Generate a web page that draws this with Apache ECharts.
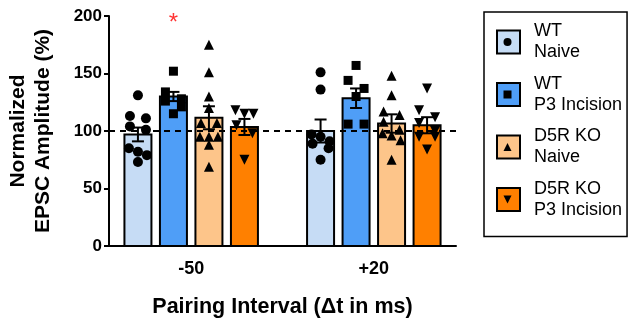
<!DOCTYPE html>
<html>
<head>
<meta charset="utf-8">
<script src="https://cdn.jsdelivr.net/npm/echarts@6/dist/echarts.min.js"></script>
<style>
  html, body { margin: 0; padding: 0; background: #fff; }
  #main { width: 636px; height: 320px; }
</style>
</head>
<body>
<div id="main"></div>
<script>
// x groups (pairing interval) and conditions
var groups = ['-50', '+20'];
var conditions = ['WT\nNaive', 'WT\nP3 Incision', 'D5R KO\nNaive', 'D5R KO\nP3 Incision'];
var colors = ['#c6dcf5', '#4f9ef7', '#fdc58a', '#ff8000'];

// bar heights (mean) and SEM, one value per group [-50, +20]
var meanWTNaive = [97, 100];
var meanWTP3 = [130, 128.5];
var meanKONaive = [111.5, 106.5];
var meanKOP3 = [103.5, 105];
var semWTNaive = [6, 10];
var semWTP3 = [4, 8.5];
var semKONaive = [10, 8];
var semKOP3 = [7, 7];

// individual cells, group -50
var ptsWTNaive50 = [131, 113, 111, 104, 101, 85, 82, 79, 73];
var ptsWTP350 = [152, 134, 128, 126, 121, 115];
var ptsKONaive50 = [175, 151, 130, 120, 107, 107, 95, 95, 95, 88, 69];
var ptsKOP350 = [118, 115, 115, 105, 98, 75];
// individual cells, group +20
var ptsWTNaive20 = [151, 136, 97, 95, 91, 89, 85, 75];
var ptsWTP320 = [157, 144, 137, 130, 106, 106];
var ptsKONaive20 = [148, 131, 117, 114, 108, 101, 98, 96, 92, 75];
var ptsKOP320 = [137, 118, 112, 107, 100, 95, 95, 84];

var yTicks = [0, 50, 100, 150, 200];
var sigGroup = 0, sigCond = 1, sigY = 194;

var means = [meanWTNaive, meanWTP3, meanKONaive, meanKOP3];
var sems = [semWTNaive, semWTP3, semKONaive, semKOP3];
var pts = [
  [ptsWTNaive50, ptsWTNaive20],
  [ptsWTP350, ptsWTP320],
  [ptsKONaive50, ptsKONaive20],
  [ptsKOP350, ptsKOP320]
];
var symbols = ['circle', 'rect', 'path://M5,0L10,10L0,10Z', 'path://M0,0L10,0L5,10Z'];
var symSizes = [10, 9, 10, 10];

var FONT = '"Liberation Sans", Arial, sans-serif';
var gridL = 109, gridR = 456, gridT = 16, gridB = 246;
var xMin = -0.45, xMax = 1.45;
var pxPerUnit = (gridR - gridL) / (xMax - xMin);
var barStep = 35.5 / pxPerUnit;
var halfBar = 13.5 / pxPerUnit;
var capHalf = 6 / pxPerUnit;

function barX(g, c) { return g + (c - 1.5) * barStep; }

// simple row layout for the dots: points close in value share a row
function swarm(vals) {
  var sorted = vals.slice().sort(function (a, b) { return b - a; });
  var rows = [];
  sorted.forEach(function (v) {
    var last = rows[rows.length - 1];
    if (last && last.length < 3 && last[0] - v <= 7) last.push(v);
    else rows.push([v]);
  });
  var out = [];
  rows.forEach(function (r) {
    var offs = r.length == 1 ? [0] : r.length == 2 ? [-8, 8] : [-9, 0, 9];
    r.forEach(function (v, i) { out.push([offs[i] / pxPerUnit, v]); });
  });
  return out;
}

var series = [];
// dashed reference line at 100, behind bars
series.push({
  type: 'line', data: [], z: 1, silent: true,
  markLine: {
    silent: true, symbol: 'none', label: { show: false },
    lineStyle: { color: '#000', type: [6, 5], width: 2 },
    data: [{ yAxis: 100 }]
  }
});
conditions.forEach(function (name, c) {
  var data = groups.map(function (g, gi) { return [gi, means[c][gi]]; });
  series.push({
    name: name, type: 'custom', z: 2,
    itemStyle: { color: colors[c], borderColor: '#000', borderWidth: 2 },
    data: data,
    renderItem: function (params, api) {
      var x = barX(api.value(0), c);
      var p0 = api.coord([x - halfBar, api.value(1)]);
      var p1 = api.coord([x + halfBar, 0]);
      return {
        type: 'rect',
        shape: { x: p0[0], y: p0[1], width: p1[0] - p0[0], height: p1[1] - p0[1] },
        style: { fill: colors[c], stroke: '#000', lineWidth: 2 }
      };
    }
  });
});
conditions.forEach(function (name, c) {
  var data = [];
  groups.forEach(function (g, gi) {
    swarm(pts[c][gi]).forEach(function (d) { data.push([barX(gi, c) + d[0], d[1]]); });
  });
  series.push({
    name: 'pts' + c, type: 'scatter', z: 3,
    symbol: symbols[c], symbolSize: symSizes[c],
    itemStyle: { color: '#000', opacity: 1 },
    data: data
  });
});
// error bars (mean +/- SEM)
var errData = [];
conditions.forEach(function (name, c) {
  groups.forEach(function (g, gi) { errData.push([gi, c, means[c][gi], sems[c][gi]]); });
});
series.push({
  type: 'custom', z: 4, silent: true, data: errData,
  renderItem: function (params, api) {
    var x = barX(api.value(0), api.value(1));
    var m = api.value(2), s = api.value(3);
    var top = api.coord([x, m + s]), bot = api.coord([x, m - s]);
    var l = api.coord([x - capHalf, m])[0], r = api.coord([x + capHalf, m])[0];
    var st = { stroke: '#000', lineWidth: 2 };
    return {
      type: 'group', children: [
        { type: 'line', shape: { x1: top[0], y1: top[1], x2: bot[0], y2: bot[1] }, style: st },
        { type: 'line', shape: { x1: l, y1: top[1], x2: r, y2: top[1] }, style: st },
        { type: 'line', shape: { x1: l, y1: bot[1], x2: r, y2: bot[1] }, style: st }
      ]
    };
  }
});
// significance asterisk
series.push({
  type: 'scatter', z: 5, silent: true, symbolSize: 0,
  data: [[barX(sigGroup, sigCond), sigY]],
  label: { show: true, position: 'inside', formatter: '*', color: '#ff0000', fontSize: 24, fontFamily: FONT }
});

var legendText = { fontFamily: FONT, fontSize: 18, lineHeight: 21, color: '#000', padding: [0, 0, 0, 9] };
var myChart = echarts.init(document.getElementById('main'));
var option = {
  animation: false,
  grid: { left: gridL, right: 636 - gridR, top: gridT, bottom: 320 - gridB, outerBoundsMode: 'none', containLabel: false },
  legend: [
    {
      orient: 'vertical', left: 484, top: 12, padding: [9, 5, 16, 12], itemGap: 10.5,
      itemWidth: 23, itemHeight: 23, selectedMode: false,
      data: conditions,
      icon: 'rect',
      borderColor: '#000', borderWidth: 1.5,
      itemStyle: { borderColor: '#000', borderWidth: 2 },
      textStyle: legendText
    },
    {
      // black marker drawn inside each legend swatch
      orient: 'vertical', left: 491.5, top: 12, padding: [9, 5, 16, 12], itemGap: 10.5,
      itemWidth: 8, itemHeight: 8, selectedMode: false,
      data: conditions.map(function (n, c) { return 'pts' + c; }),
      formatter: function () { return ' \n '; },
      textStyle: Object.assign({}, legendText, { color: 'rgba(0,0,0,0)' })
    }
  ],
  xAxis: {
    type: 'value', min: xMin, max: xMax,
    name: 'Pairing Interval (\u0394t in ms)', nameLocation: 'middle', nameGap: 50,
    nameTextStyle: { fontFamily: FONT, fontSize: 21.5, fontWeight: 'bold', color: '#000' },
    axisLine: { show: true, lineStyle: { color: '#000', width: 2 } },
    axisTick: { show: false },
    splitLine: { show: false },
    axisLabel: {
      customValues: [0, 1], margin: 14,
      formatter: function (v) { return groups[Math.round(v)]; },
      fontFamily: FONT, fontSize: 18, fontWeight: 'bold', color: '#000'
    }
  },
  yAxis: {
    type: 'value', min: yTicks[0], max: yTicks[yTicks.length - 1], interval: 50,
    name: 'Normalized\nEPSC Amplitude (%)', nameLocation: 'middle', nameRotate: 90, nameGap: 53,
    nameTextStyle: { fontFamily: FONT, fontSize: 21, fontWeight: 'bold', color: '#000', lineHeight: 25 },
    axisLine: { show: true, onZero: false, lineStyle: { color: '#000', width: 2 } },
    axisTick: { show: true, length: 5, lineStyle: { color: '#000', width: 2 } },
    splitLine: { show: false },
    axisLabel: { margin: 7, fontFamily: FONT, fontSize: 17, fontWeight: 'bold', color: '#000' }
  },
  series: series
};
myChart.setOption(option);
</script>
</body>
</html>
